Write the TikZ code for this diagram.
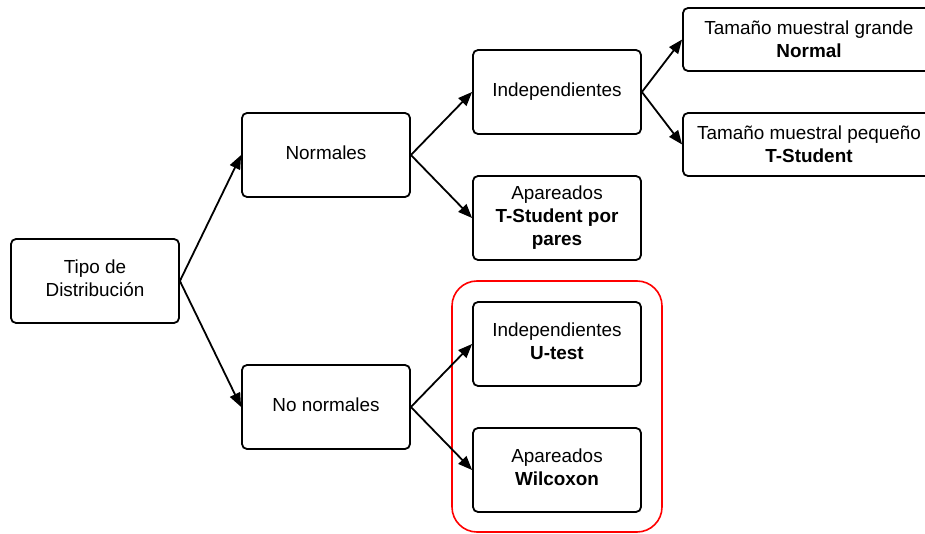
\documentclass[tikz,border=0pt]{standalone}
\usepackage{fontspec}
\setmainfont{Liberation Sans}
\usetikzlibrary{arrows.meta}
% text block set as a centred tabular, lifted by #1 inside its box
\newcommand{\boxtext}[2][0.5pt]{\raisebox{#1}[\height][\depth]{\begin{tabular}{@{}c@{}}#2\end{tabular}}}
\begin{document}
\begin{tikzpicture}[x=1pt,y=-1pt,
  box/.style={draw=black, line width=1.8pt, rounded corners=5pt, fill=white,
    minimum width=168pt, minimum height=84pt, align=center, inner sep=0pt,
    font=\fontsize{18.9pt}{23pt}\selectfont},
  wide/.style={box, minimum width=252pt, minimum height=63pt},
  link/.style={line width=1.8pt, -{Triangle[length=14pt,width=11pt]}}]
  \useasboundingbox (0,0) rectangle (925,534);
  \clip (0,0) rectangle (925,534);

  % highlight around the non-parametric tests
  \draw[red, line width=1.6pt, rounded corners=25pt] (452,281) rectangle (662,532);

  \node[box] (tipo) at (95,281) {\boxtext{Tipo de\\Distribución}};
  \node[box] (norm) at (326,155) {\boxtext{Normales}};
  \node[box] (nonorm) at (326,407) {\boxtext{No normales}};
  \node[box] (indep) at (557,92) {\boxtext{Independientes}};
  \node[box] (apar) at (557,218) {\boxtext{Apareados\\\textbf{T-Student por}\\\textbf{pares}}};
  \node[box] (utest) at (557,344) {\boxtext{Independientes\\\textbf{U-test}}};
  \node[box] (wilc) at (557,470) {\boxtext{Apareados\\\textbf{Wilcoxon}}};
  \node[wide] (grande) at (809,39.5) {\boxtext[-2pt]{Tamaño muestral grande\\\textbf{Normal}}};
  \node[wide] (peq) at (809,144.5) {\boxtext[-2pt]{Tamaño muestral pequeño\\\textbf{T-Student}}};

  \draw[link] (tipo.east) -- (norm.west);
  \draw[link] (tipo.east) -- (nonorm.west);
  \draw[link] (norm.east) -- (indep.west);
  \draw[link] (norm.east) -- (apar.west);
  \draw[link] (nonorm.east) -- (utest.west);
  \draw[link] (nonorm.east) -- (wilc.west);
  \draw[link] (indep.east) -- (grande.west);
  \draw[link] (indep.east) -- (peq.west);
\end{tikzpicture}
\end{document}
